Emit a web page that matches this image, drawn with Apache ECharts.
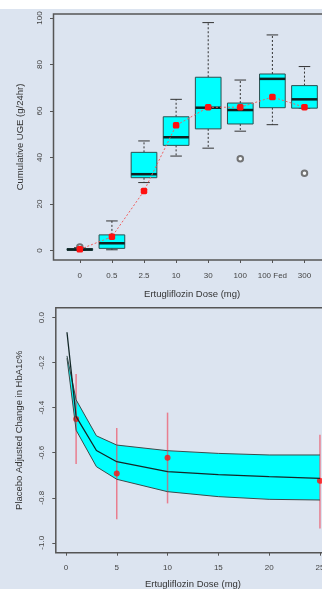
<!DOCTYPE html>
<html>
<head>
<meta charset="utf-8">
<script src="https://cdn.jsdelivr.net/npm/echarts@6/dist/echarts.min.js"></script>
<style>
html, body { margin: 0; padding: 0; background: #fff; }
#chart { width: 322px; height: 589px; }
</style>
</head>
<body>
<div id="chart"></div>
<script>
// top panel: cumulative UGE by dose group (boxplots + means)
const doseLabels = ['0', '0.5', '2.5', '10', '30', '100', '100 Fed', '300'];
const boxMin = [0.0, 0.3, 29.2, 40.6, 44.0, 51.3, 54.1, 61.2];
const boxQ1 = [0.1, 0.9, 31.3, 45.2, 52.3, 54.4, 61.4, 61.2];
const boxMed = [0.4, 3.1, 32.8, 48.7, 61.4, 60.4, 73.8, 65.0];
const boxQ3 = [0.8, 6.7, 42.2, 57.5, 74.5, 63.4, 75.9, 70.9];
const boxMax = [1.2, 12.7, 47.1, 65.0, 98.0, 73.3, 92.7, 79.1];
const meanUGE = [0.5, 5.9, 25.6, 53.8, 61.6, 61.6, 66.0, 61.6];
const outlierGroup = [1, 6, 8];
const outlierUGE = [1.5, 39.4, 33.2];
const ugeTicks = [0, 20, 40, 60, 80, 100];

// bottom panel: placebo adjusted HbA1c change vs dose
const curveDose = [0.1, 1, 3, 5, 10, 15, 20, 25];
const curveMid = [-0.065, -0.44, -0.59, -0.64, -0.684, -0.697, -0.706, -0.714];
const curveHigh = [-0.17, -0.365, -0.525, -0.566, -0.591, -0.603, -0.61, -0.61];
const curveLow = [-0.18, -0.50, -0.662, -0.718, -0.773, -0.795, -0.807, -0.81];
const obsDose = [1, 5, 10, 25];
const obsMean = [-0.45, -0.692, -0.622, -0.725];
const obsLow = [-0.65, -0.896, -0.825, -0.936];
const obsHigh = [-0.25, -0.49, -0.422, -0.52];
const doseTicks = [0, 5, 10, 15, 20, 25];
const hba1cTicks = [-1.0, -0.8, -0.6, -0.4, -0.2, 0.0];

const chart = echarts.init(document.getElementById('chart'));

const frameColor = '#555';
const labelStyle = { color: '#444', fontSize: 8, fontFamily: 'Liberation Sans' };
const nameStyle = { color: '#333', fontSize: 9.5, fontFamily: 'Liberation Sans' };

const renderBox = (params, api) => {
   const x = api.value(0);
   const pMin = api.coord([x, api.value(1)]);
   const pQ1 = api.coord([x, api.value(2)]);
   const pMed = api.coord([x, api.value(3)]);
   const pQ3 = api.coord([x, api.value(4)]);
   const pMax = api.coord([x, api.value(5)]);
   const halfBox = api.size([0.4, 0])[0];
   const halfCap = api.size([0.18, 0])[0];
   const cx = pMed[0];
   const whisker = { stroke: '#333', lineWidth: 1, lineDash: [2, 2] };
   const cap = { stroke: '#333', lineWidth: 1 };
   return {
      type: 'group',
      children: [
         { type: 'line', shape: { x1: cx, y1: pQ3[1], x2: cx, y2: pMax[1] }, style: whisker },
         { type: 'line', shape: { x1: cx, y1: pQ1[1], x2: cx, y2: pMin[1] }, style: whisker },
         { type: 'line', shape: { x1: cx - halfCap, y1: pMax[1], x2: cx + halfCap, y2: pMax[1] }, style: cap },
         { type: 'line', shape: { x1: cx - halfCap, y1: pMin[1], x2: cx + halfCap, y2: pMin[1] }, style: cap },
         { type: 'rect', shape: { x: cx - halfBox, y: pQ3[1], width: halfBox * 2, height: pQ1[1] - pQ3[1] },
           style: { fill: '#00ffff', stroke: '#2b4f4f', lineWidth: 1 } },
         { type: 'line', shape: { x1: cx - halfBox, y1: pMed[1], x2: cx + halfBox, y2: pMed[1] },
           style: { stroke: '#0d2222', lineWidth: 2.5 } }
      ]
   };
};

const renderBand = (params, api) => {
   if (params.dataIndex !== 0) return null;
   const pts = [];
   curveDose.forEach((d, i) => pts.push(api.coord([d, curveHigh[i]])));
   for (let i = curveDose.length - 1; i >= 0; i--) pts.push(api.coord([curveDose[i], curveLow[i]]));
   return { type: 'polygon', shape: { points: pts }, style: { fill: '#00ffff' } };
};

const renderErr = (params, api) => {
   const lo = api.coord([api.value(0), api.value(1)]);
   const hi = api.coord([api.value(0), api.value(2)]);
   return {
      type: 'line',
      shape: { x1: lo[0], y1: lo[1], x2: hi[0], y2: hi[1] },
      style: { stroke: 'rgba(240,70,90,0.65)', lineWidth: 1.5 }
   };
};

const option = {
   backgroundColor: '#dce4f0',
   animation: false,
   graphic: [
      { type: 'rect', left: 0, top: 0, shape: { width: 322, height: 9 }, style: { fill: '#fff' }, silent: true }
   ],
   grid: [
      { left: 53.5, top: 14, width: 277.3, height: 246, outerBoundsMode: 'none', containLabel: false,
        show: true, borderColor: frameColor, borderWidth: 1.5, backgroundColor: 'transparent' },
      { left: 55.8, top: 307.7, width: 274.3, height: 245, outerBoundsMode: 'none', containLabel: false,
        show: true, borderColor: frameColor, borderWidth: 1.5, backgroundColor: 'transparent' }
   ],
   xAxis: [
      {
         type: 'value', gridIndex: 0, min: 0.18, max: 8.82,
         name: 'Ertugliflozin Dose (mg)', nameLocation: 'middle', nameGap: 29, nameTextStyle: nameStyle,
         axisLine: { show: false, onZero: false },
         axisTick: { show: true, length: 3, customValues: [1, 2, 3, 4, 5, 6, 7, 8], lineStyle: { color: frameColor } },
         axisLabel: Object.assign({ margin: 12, customValues: [1, 2, 3, 4, 5, 6, 7, 8],
            formatter: v => doseLabels[Math.round(v) - 1] }, labelStyle),
         splitLine: { show: false }
      },
      {
         type: 'value', gridIndex: 1, min: -1, max: 26,
         name: 'Ertugliflozin Dose (mg)', nameLocation: 'middle', nameGap: 27, nameTextStyle: nameStyle,
         axisLine: { show: false, onZero: false },
         axisTick: { show: true, length: 3, customValues: doseTicks, lineStyle: { color: frameColor } },
         axisLabel: Object.assign({ margin: 11, customValues: doseTicks, formatter: v => String(v) }, labelStyle),
         splitLine: { show: false }
      }
   ],
   yAxis: [
      {
         type: 'value', gridIndex: 0, min: -4.1, max: 101.7,
         name: 'Cumulative UGE (g/24hr)', nameLocation: 'middle', nameGap: 28, nameTextStyle: nameStyle,
         axisLine: { show: false, onZero: false },
         axisTick: { show: true, length: 3.5, customValues: ugeTicks, lineStyle: { color: frameColor } },
         axisLabel: Object.assign({ margin: 10, rotate: 90, customValues: ugeTicks, formatter: v => String(v) }, labelStyle),
         splitLine: { show: false }
      },
      {
         type: 'value', gridIndex: 1, min: -1.044, max: 0.044,
         name: 'Placebo Adjusted Change in HbA1c%', nameLocation: 'middle', nameGap: 31, nameTextStyle: nameStyle,
         axisLine: { show: false, onZero: false },
         axisTick: { show: true, length: 3.5, customValues: hba1cTicks, lineStyle: { color: frameColor } },
         axisLabel: Object.assign({ margin: 10, rotate: 90, customValues: hba1cTicks, formatter: v => v.toFixed(1) }, labelStyle),
         splitLine: { show: false }
      }
   ],
   series: [
      {
         type: 'custom', xAxisIndex: 0, yAxisIndex: 0, renderItem: renderBox,
         data: doseLabels.map((d, i) => [i + 1, boxMin[i], boxQ1[i], boxMed[i], boxQ3[i], boxMax[i]]),
         encode: { x: 0, y: [1, 2, 3, 4, 5] }
      },
      {
         type: 'scatter', xAxisIndex: 0, yAxisIndex: 0, symbol: 'emptyCircle', symbolSize: 5.5,
         itemStyle: { color: '#555', borderWidth: 1 },
         data: outlierGroup.map((g, i) => [g, outlierUGE[i]])
      },
      {
         type: 'line', xAxisIndex: 0, yAxisIndex: 0, symbol: 'roundRect', symbolSize: 6.5,
         itemStyle: { color: '#ff1010' },
         lineStyle: { color: '#f06060', width: 1, type: [2, 2] },
         data: meanUGE.map((m, i) => [i + 1, m])
      },
      {
         type: 'custom', xAxisIndex: 1, yAxisIndex: 1, renderItem: renderBand,
         data: curveDose.map((d, i) => [d, curveLow[i], curveHigh[i]]),
         encode: { x: 0, y: [1, 2] }
      },
      {
         type: 'line', xAxisIndex: 1, yAxisIndex: 1, symbol: 'none',
         lineStyle: { color: '#3c4a4a', width: 1 },
         data: curveDose.map((d, i) => [d, curveHigh[i]])
      },
      {
         type: 'line', xAxisIndex: 1, yAxisIndex: 1, symbol: 'none',
         lineStyle: { color: '#3c4a4a', width: 1 },
         data: curveDose.map((d, i) => [d, curveLow[i]])
      },
      {
         type: 'line', xAxisIndex: 1, yAxisIndex: 1, symbol: 'none',
         lineStyle: { color: '#132828', width: 1.3 },
         data: curveDose.map((d, i) => [d, curveMid[i]])
      },
      {
         type: 'custom', xAxisIndex: 1, yAxisIndex: 1, renderItem: renderErr,
         data: obsDose.map((d, i) => [d, obsLow[i], obsHigh[i]]),
         encode: { x: 0, y: [1, 2] }
      },
      {
         type: 'scatter', xAxisIndex: 1, yAxisIndex: 1, symbol: 'circle', symbolSize: 6,
         itemStyle: { color: '#ff1010' },
         data: obsDose.map((d, i) => [d, obsMean[i]])
      }
   ]
};

chart.setOption(option);
</script>
</body>
</html>
